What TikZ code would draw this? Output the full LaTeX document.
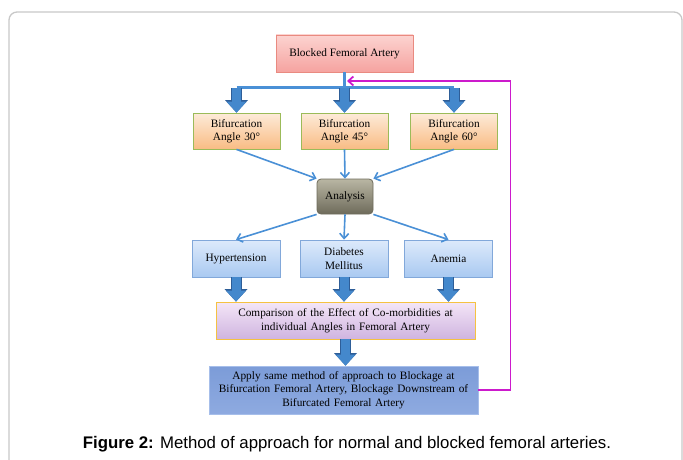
\documentclass[tikz,border=0pt]{standalone}
\usepackage{fontspec}
\setmainfont{Liberation Serif}
\newfontfamily\capfont{Liberation Sans}
\usetikzlibrary{arrows.meta,positioning,calc}
\definecolor{pinkedge}{HTML}{E98A80}
\definecolor{pinktop}{HTML}{FCD3D0}
\definecolor{pinkbot}{HTML}{F5A3A0}
\definecolor{greenedge}{HTML}{9BBB59}
\definecolor{orangetop}{HTML}{FDEBD9}
\definecolor{orangebot}{HTML}{F9BC84}
\definecolor{blueedge}{HTML}{82A8DA}
\definecolor{bluetop}{HTML}{DDEAFB}
\definecolor{bluebot}{HTML}{A9C9F1}
\definecolor{goldedge}{HTML}{F5C242}
\definecolor{lilactop}{HTML}{F4E6F7}
\definecolor{lilacbot}{HTML}{CFB4E0}
\definecolor{navytop}{HTML}{7C9CD8}
\definecolor{navybot}{HTML}{8EAAE0}
\definecolor{navyedge}{HTML}{A6BEEA}
\definecolor{olivetop}{HTML}{B9B6A3}
\definecolor{olivebot}{HTML}{6E6B5B}
\definecolor{linkblue}{HTML}{4A90D6}
\definecolor{fatblue}{HTML}{4488CC}
\definecolor{fatedge}{HTML}{2E5E98}
\definecolor{loopcol}{HTML}{CC1ACC}
\definecolor{framegray}{HTML}{C8C8C8}

\begin{document}
\begin{tikzpicture}[x=1pt,y=-1pt,
    font={\fontsize{11.3pt}{13.5pt}\selectfont},
    block_top/.style ={rectangle, draw=pinkedge, thick, top color=pinktop, bottom color=pinkbot,
      minimum width=137pt, minimum height=37pt, inner sep=2pt},
    block_angle/.style ={rectangle, draw=greenedge, thick, top color=orangetop, bottom color=orangebot,
      text width=80pt, align=center, minimum width=87pt, minimum height=36pt, inner sep=2pt},
    block_analysis/.style ={rectangle, rounded corners=4pt, draw=olivebot, thick,
      top color=olivetop, bottom color=olivebot, minimum width=56pt, minimum height=35pt, inner sep=2pt},
    block_disease/.style ={rectangle, draw=blueedge, thick, top color=bluetop, bottom color=bluebot,
      text width=80pt, align=center, minimum width=88pt, minimum height=37pt, inner sep=2pt},
    block_compare/.style ={rectangle, draw=goldedge, thick, top color=lilactop, bottom color=lilacbot,
      text width=250pt, align=center, minimum width=259pt, minimum height=37pt, inner sep=2pt},
    block_apply/.style ={rectangle, draw=navyedge, thick, top color=navytop, bottom color=navybot,
      text width=262pt, align=center, minimum width=269pt, minimum height=48pt, inner sep=2pt},
    link/.style ={draw=linkblue, line width=1.6pt, -{Straight Barb[length=5pt,width=9pt]}},
    fat_edge/.style ={draw=fatedge, line width=11pt, -{Triangle[length=12.5pt,width=23pt,line width=0pt]}},
    fat_arrow/.style ={draw=fatblue, line width=9pt,
      -{Triangle[length=11pt,width=20pt,line width=0pt]}, preaction={fat_edge}},
    loop_back/.style ={draw=loopcol, line width=1.8pt, -{Straight Barb[length=5pt,width=9pt]}}]
  \useasboundingbox (0,0) rectangle (683,460);
  % frame round the figure
  \begin{scope}
    \clip (0,0) rectangle (683,460);
    \draw[framegray, line width=1.3pt, rounded corners=8pt] (9,12) rectangle (682,480);
  \end{scope}
  % row 1
  \node[block_top] (top) at (344.5,53.5) {Blocked Femoral Artery};
  % row 2
  \node[block_angle] (ang30) at (236.5,131) {Bifurcation\\Angle 30\textdegree};
  \node[block_angle] (ang45) at (344.5,131) {Bifurcation\\Angle 45\textdegree};
  \node[block_angle] (ang60) at (454,131) {Bifurcation\\Angle 60\textdegree};
  % row 3
  \node[block_analysis] (ana) at (345,196.5) {Analysis};
  % row 4
  \node[block_disease] (hyp) at (236,258.5) {Hypertension};
  \node[block_disease] (dia) at (344,258.5) {Diabetes\\Mellitus};
  \node[block_disease] (ane) at (448.5,258.5) {Anemia};
  % row 5
  \node[block_compare] (cmp) at (345.5,320.5) {Comparison of the Effect of Co-morbidities at\\individual Angles in Femoral Artery};
  % row 6
  \node[block_apply] (app) at (343.5,390) {Apply same method of approach to Blockage at\\Bifurcation Femoral Artery, Blockage Downstream of\\Bifurcated Femoral Artery};
  % caption
  \node[font={\capfont\fontsize{16.8pt}{19pt}\selectfont}, anchor=base] (cap) at (347,448)
    {\textbf{Figure 2:} Method of approach for normal and blocked femoral arteries.};
  % splitting bar under the top box
  \coordinate (split) at (344.5,88);
  \coordinate (loopin) at (347,81);
  \draw[linkblue, line width=3.5pt] (top.south) -- (split);
  \draw[linkblue, line width=3pt] (ang30.north |- split) -- (ang60.north |- split);
  % connecting nodes with fat arrows
  \draw[fat_arrow] (ang30.north |- split) -- (ang30.north);
  \draw[fat_arrow] (ang45.north |- split) -- (ang45.north);
  \draw[fat_arrow] (ang60.north |- split) -- (ang60.north);
  \draw[fat_arrow] (hyp.south) -- (hyp.south |- cmp.north);
  \draw[fat_arrow] (dia.south) -- (dia.south |- cmp.north);
  \draw[fat_arrow] (ane.south) -- (ane.south |- cmp.north);
  \draw[fat_arrow] (cmp.south) -- (cmp.south |- app.north);
  % thin paths to and from the analysis
  \begin{scope}[every path/.style=link]
    \path (ang30.south) -- (ana.north west);
    \path (ang45.south) -- (ana.north);
    \path (ang60.south) -- (ana.north east);
    \path (ana.south west) -- (hyp.north);
    \path (ana.south) -- (dia.north);
    \path (ana.south east) -- (ane.north);
  \end{scope}
  % back to the top
  \path[loop_back] (app.east) -- ++(32,0) |- (loopin);
\end{tikzpicture}
\end{document}
